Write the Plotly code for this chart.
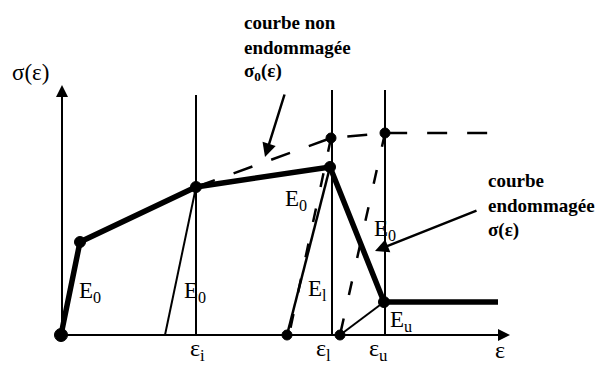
import plotly.graph_objects as go

# damaged curve sigma(eps)
dam_x = [0, 19, 135, 269, 323, 437]
dam_y = [0, 93, 148, 168, 33, 33]

# undamaged curve sigma0(eps), dashed part after eps_i
und_x = [135, 270, 324, 440]
und_y = [148, 197, 202, 202]

# unloading lines (start x, start y, end x, end y)
e0_first = ([135, 104], [148, 0])
el_line = ([269, 226], [168, 0])
e0_dash1 = ([270, 228], [197, 0])
e0_dash2 = ([324, 279], [202, 0])
eu_line = ([279, 323], [0, 33])

# vertical strain markers
eps_pos = [135, 271, 324]
eps_top = [240, 245, 245]

dots_x = [0, 19, 135, 269, 270, 324, 323, 226, 279]
dots_y = [0, 93, 148, 168, 197, 202, 33, 0, 0]

ink = "#000000"
serif = "Liberation Serif"

fig = go.Figure()

def line(x, y, w=2, dash="solid"):
    fig.add_trace(go.Scatter(x=x, y=y, mode="lines",
                             line=dict(color=ink, width=w, dash=dash),
                             hoverinfo="skip"))

for xp, top in zip(eps_pos, eps_top):
    line([xp, xp], [0, top], 2)

line(*e0_first, 2)
line(*el_line, 2.5)
line(*e0_dash1, 2.5, "14px,22px")
line(*e0_dash2, 2.5, "14px,24px")
line(*eu_line, 2)
line(und_x, und_y, 2.5, "20px,20px")
line(dam_x, dam_y, 5.5)

fig.add_trace(go.Scatter(x=dots_x, y=dots_y, mode="markers", opacity=1,
                         marker=dict(color=ink, opacity=1, symbol="circle",
                                     size=[13, 11, 11, 11, 10, 10, 11, 10, 10],
                                     line=dict(width=1, color=ink)),
                         hoverinfo="skip"))

# axes with arrowheads
for tx, ty in [(449, 0), (1, 250)]:
    fig.add_annotation(x=tx, y=ty, ax=1 if ty else 0, ay=0, axref="x", ayref="y",
                       xref="x", yref="y", text="", showarrow=True,
                       arrowhead=2, arrowsize=1.2, arrowwidth=2, arrowcolor=ink)

# pointer arrows
fig.add_annotation(x=204, y=178, ax=224, ay=242, axref="x", ayref="y", text="",
                   showarrow=True, arrowhead=2, arrowsize=1.1, arrowwidth=2.5, arrowcolor=ink)
fig.add_annotation(x=314, y=84, ax=417, ay=125, axref="x", ayref="y", text="",
                   showarrow=True, arrowhead=2, arrowsize=1.1, arrowwidth=2.5, arrowcolor=ink)

def label(x, y, s, size=20, anchor="left", bold=False):
    fig.add_annotation(x=x, y=y, text=("<b>%s</b>" % s) if bold else s,
                       showarrow=False, xanchor=anchor, yanchor="middle",
                       font=dict(family=serif, size=size, color=ink))

label(-51, 263, "σ(ε)", 23)
label(181, 313, "courbe non", 19, bold=True)
label(181, 288, "endommagée", 19, bold=True)
label(181, 263, "σ<sub>0</sub>(ε)", 19, bold=True)
label(425, 155, "courbe", 19, bold=True)
label(425, 130, "endommagée", 19, bold=True)
label(425, 105, "σ(ε)", 19, bold=True)

label(16, 43, "E<sub>0</sub>", 23)
label(121, 43, "E<sub>0</sub>", 23)
label(222, 135, "E<sub>0</sub>", 23)
label(311, 105, "E<sub>0</sub>", 23)
label(245, 45, "E<sub>l</sub>", 23)
label(327, 14, "E<sub>u</sub>", 23)

label(136, -15, "ε<sub>i</sub>", 24, "center")
label(262, -15, "ε<sub>l</sub>", 24, "center")
label(317, -15, "ε<sub>u</sub>", 24, "center")
label(439, -15, "ε", 24, "center")

# the page adds an 8px body margin, so the figure is 8px smaller and its ranges start 8 units in
fig.update_layout(
    width=598, height=364, autosize=False,
    margin=dict(l=0, r=0, t=0, b=0),
    paper_bgcolor="white", plot_bgcolor="white",
    showlegend=False,
    xaxis=dict(range=[-53, 545], visible=False, fixedrange=True),
    yaxis=dict(range=[-37, 327], visible=False, fixedrange=True),
)

fig.write_html("out.html")
